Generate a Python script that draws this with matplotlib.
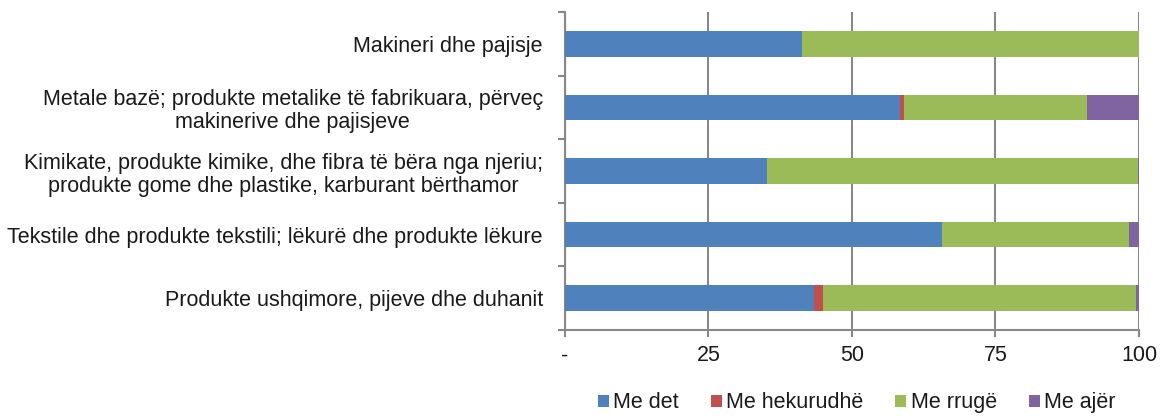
import matplotlib
matplotlib.use("Agg")
import matplotlib.pyplot as plt
import numpy as np

plt.rcParams['font.family'] = ['Liberation Sans', 'DejaVu Sans']

categories = [
    "Makineri dhe pajisje",
    "Metale bazë; produkte metalike të fabrikuara, përveç\nmakinerive dhe pajisjeve",
    "Kimikate, produkte kimike, dhe fibra të bëra nga njeriu;\nprodukte gome dhe plastike, karburant bërthamor",
    "Tekstile dhe produkte tekstili; lëkurë dhe produkte lëkure",
    "Produkte ushqimore, pijeve dhe duhanit",
]
series_names = ["Me det", "Me hekurudhë", "Me rrugë", "Me ajër"]
me_det = [41.3, 58.4, 35.2, 65.7, 43.4]
me_hekurudhe = [0.0, 0.7, 0.0, 0.0, 1.6]
me_rruge = [58.7, 31.9, 64.7, 32.6, 54.4]
me_ajer = [0.0, 9.0, 0.1, 1.7, 0.6]
colors = ["#4F81BD", "#C0504D", "#9BBB59", "#8064A2"]
xticks = [0, 25, 50, 75, 100]
xticklabels = ["-", "25", "50", "75", "100"]

fig = plt.figure(figsize=(11.64, 4.18), dpi=100)
ax = fig.add_axes([0.4854, 0.2105, 0.4931, 0.7608])

y = np.arange(len(categories))[::-1]
left = np.zeros(len(categories))
for name, vals, c in zip(series_names, [me_det, me_hekurudhe, me_rruge, me_ajer], colors):
    ax.barh(y, vals, left=left, height=0.4, color=c, label=name, zorder=3)
    left += np.array(vals)

txtc = "#1a1a1a"
ax.set_xlim(0, 100)
ax.set_ylim(-0.5, len(categories) - 0.5)
gridc = "#888888"
ax.set_xticks(xticks)
ax.set_xticklabels(xticklabels, fontsize=15.5, color=txtc)
ax.xaxis.grid(True, color=gridc, linewidth=1.5, zorder=0)
ax.tick_params(axis='x', length=5, color=gridc, width=1.5, pad=6)
ax.set_yticks(y)
ax.set_yticklabels(categories, fontsize=15.5, multialignment='center', linespacing=1.15, color=txtc)
ax.tick_params(axis='y', length=0, pad=16)
ax.set_yticks(np.arange(-0.5, len(categories), 1.0), minor=True)
ax.tick_params(axis='y', which='minor', length=5, color=gridc, width=1.5)
for s in ['top', 'right']:
    ax.spines[s].set_visible(False)
for s in ['left', 'bottom']:
    ax.spines[s].set_color(gridc)
    ax.spines[s].set_linewidth(1.5)

leg = fig.legend(loc='center', bbox_to_anchor=(0.736, 0.036), ncol=4, frameon=False,
                 fontsize=15.5, handlelength=0.5, handleheight=0.5, handletextpad=0.2,
                 columnspacing=1.5)
for t in leg.get_texts():
    t.set_color(txtc)

fig.savefig("out.png", dpi=100)
